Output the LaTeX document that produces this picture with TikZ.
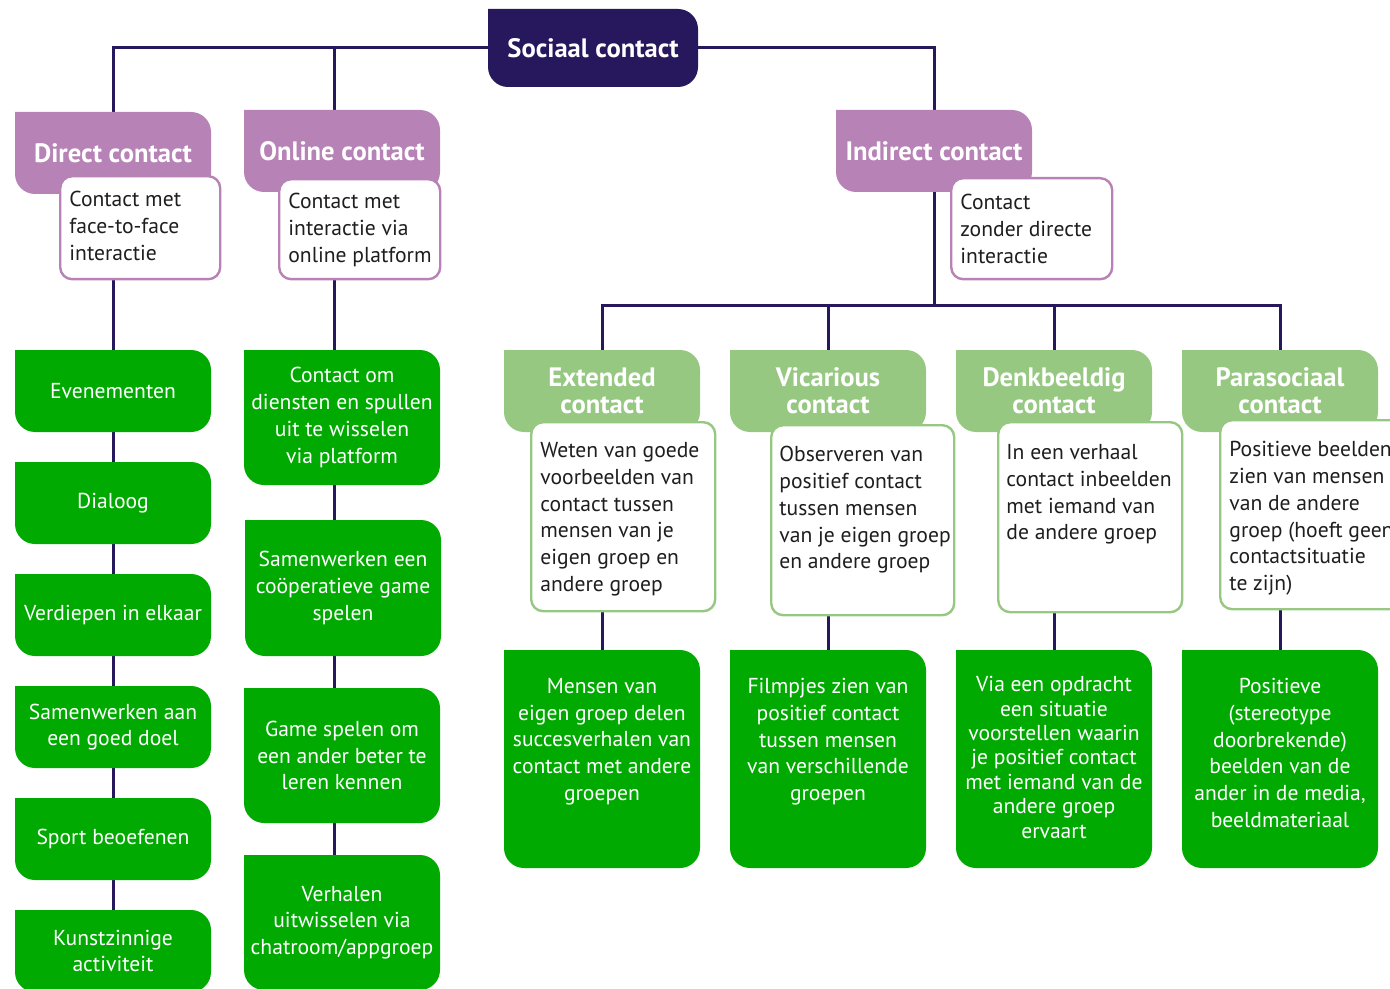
\documentclass[tikz,border=0pt]{standalone}
\usepackage{fontspec}
\setmainfont{PT Sans}
\usetikzlibrary{backgrounds}

\definecolor{donkerblauw}{RGB}{39,24,94}
\definecolor{paars}{RGB}{183,130,182}
\definecolor{lichtgroen}{RGB}{150,200,130}
\definecolor{groen}{RGB}{0,170,0}
\definecolor{tekst}{RGB}{30,30,30}

\tikzset{
  vorm/.style={path picture={
    \fill[#1] (path picture bounding box.north west)
      -- ([xshift=-10pt]path picture bounding box.north east)
      arc[start angle=90, end angle=0, radius=10pt]
      -- ([yshift=10pt]path picture bounding box.south east)
      arc[start angle=0, end angle=-90, radius=10pt]
      -- ([xshift=10pt]path picture bounding box.south west)
      arc[start angle=270, end angle=180, radius=10pt]
      -- cycle;}},
  kop/.style={vorm=#1, minimum width=98pt, minimum height=41pt, inner sep=0pt,
    text=white, align=center, font=\fontsize{13.3}{13.5}\selectfont\bfseries},
  omschr/.style={draw=#1, fill=white, line width=1.2pt, rounded corners=6pt,
    anchor=north west, inner sep=0pt},
  omtekst/.style={anchor=north west, inner sep=0pt, align=left, text=tekst,
    font=\fontsize{10.8}{13.4}\selectfont},
  vb/.style={vorm=groen, minimum width=98pt, inner sep=0pt, text=white,
    align=center, font=\fontsize{10.8}{13.35}\selectfont},
  vbtekst/.style={anchor=north, inner sep=0pt, align=center, text=white,
    font=\fontsize{10.8}{13.35}\selectfont},
  lijn/.style={draw=donkerblauw, line width=1.5pt},
}

\begin{document}
\begin{tikzpicture}[x=0.5pt, y=-0.5pt]
    \useasboundingbox (0,0) rectangle (1390,989);
    \clip (0,0) rectangle (1390,989);

    % 顶部
    \node[kop=donkerblauw, minimum width=105pt, minimum height=39pt] (sociaal) at (593,48) {Sociaal contact};

    % 三种接触
    \node[kop=paars] (direct) at (113,153) {Direct contact};
    \node[omschr=paars, minimum width=80pt, minimum height=51.5pt] (direct-om) at (59,175) {};
    \node[omtekst] (direct-tekst) at (69,191) {Contact met\\face-to-face\\interactie};

    \node[kop=paars] (online) at (342,151) {Online contact};
    \node[omschr=paars, minimum width=80.5pt, minimum height=50pt] (online-om) at (278,178) {};
    \node[omtekst] (online-tekst) at (288,193) {Contact met\\interactie via\\online platform};

    \node[kop=paars] (indirect) at (934,151) {Indirect contact};
    \node[omschr=paars, minimum width=80.5pt, minimum height=50.5pt] (indirect-om) at (950,177) {};
    \node[omtekst] (indirect-tekst) at (960,194) {Contact\\zonder directe\\interactie};

    % 直接接触的例子
    \node[vb, minimum height=41pt] (evenementen) at (113,391) {Evenementen};
    \node[vb, minimum height=41pt] (dialoog) at (113,503) {Dialoog};
    \node[vb, minimum height=41pt] (verdiepen) at (113,615) {Verdiepen in elkaar};
    \node[vb, minimum height=41pt] (goeddoel) at (113,727) {Samenwerken aan\\een goed doel};
    \node[vb, minimum height=41pt] (sport) at (113,839) {Sport beoefenen};
    \node[vb, minimum height=41pt] (kunst) at (113,951) {Kunstzinnige\\activiteit};

    % 在线接触的例子
    \node[vb, minimum height=67.5pt] (spullen) at (342,417.5) {Contact om\\diensten en spullen\\uit te wisselen\\via platform};
    \node[vb, minimum height=68pt] (coop) at (343,588) {Samenwerken een\\coöperatieve game\\spelen};
    \node[vb, minimum height=67.5pt] (game) at (342,755.5) {Game spelen om\\een ander beter te\\leren kennen};
    \node[vb, minimum height=67.5pt] (chat) at (342,922.5) {Verhalen\\uitwisselen via\\chatroom/appgroep};

    % 间接接触的四种
    \node[kop=lichtgroen] (extended) at (602,391) {Extended\\contact};
    \node[kop=lichtgroen] (vicarious) at (828,391) {Vicarious\\contact};
    \node[kop=lichtgroen] (denkbeeldig) at (1054,391) {Denkbeeldig\\contact};
    \node[kop=lichtgroen] (parasociaal) at (1280,391) {Parasociaal\\contact};

    \node[omschr=lichtgroen, minimum width=92pt, minimum height=94.5pt] (extended-om) at (530,421) {};
    \node[omtekst] (extended-tekst) at (540,442) {Weten van goede\\voorbeelden van\\contact tussen\\mensen van je\\eigen groep en\\andere groep};
    \node[omschr=lichtgroen, minimum width=91.5pt, minimum height=95pt] (vicarious-om) at (770,424) {};
    \node[omtekst] (vicarious-tekst) at (779,446) {Observeren van\\positief contact\\tussen mensen\\van je eigen groep\\en andere groep};
    \node[omschr=lichtgroen, minimum width=92pt, minimum height=95pt] (denkbeeldig-om) at (997,421) {};
    \node[omtekst] (denkbeeldig-tekst) at (1006,444) {In een verhaal\\contact inbeelden\\met iemand van\\de andere groep};
    \node[omschr=lichtgroen, minimum width=95pt, minimum height=94.5pt] (parasociaal-om) at (1219,419) {};
    \node[omtekst] (parasociaal-tekst) at (1229,441) {Positieve beelden\\zien van mensen\\van de andere\\groep (hoeft geen\\contactsituatie\\te zijn)};

    \node[vb, minimum height=109pt] (extended-vb) at (602,759) {};
    \node[vbtekst] (extended-vbtekst) at (602,678) {Mensen van\\eigen groep delen\\succesverhalen van\\contact met andere\\groepen};
    \node[vb, minimum height=109pt] (vicarious-vb) at (828,759) {};
    \node[vbtekst] (vicarious-vbtekst) at (828,678) {Filmpjes zien van\\positief contact\\tussen mensen\\van verschillende\\groepen};
    \node[vb, minimum height=109pt] (denkbeeldig-vb) at (1054,759) {};
    \node[vbtekst, font=\fontsize{10.8}{12.2}\selectfont] (denkbeeldig-vbtekst) at (1054,676) {Via een opdracht\\een situatie\\voorstellen waarin\\je positief contact\\met iemand van de\\andere groep\\ervaart};
    \node[vb, minimum height=109pt] (parasociaal-vb) at (1280,759) {};
    \node[vbtekst] (parasociaal-vbtekst) at (1280,678) {Positieve\\(stereotype\\doorbrekende)\\beelden van de\\ander in de media,\\beeldmateriaal};

    % 连线
    \begin{scope}[on background layer]
        \draw[lijn] (sociaal.west) -| (direct.north);
        \draw[lijn] (sociaal.west) -| ([xshift=-4pt]online.north);
        \draw[lijn] (sociaal.east) -| (indirect.north);
        \draw[lijn] (direct) -- (kunst);
        \draw[lijn] ([xshift=-4pt]online.south) -- ([xshift=-4pt]chat.north);
        \coordinate (splits) at (indirect.south |- 0,306);
        \draw[lijn] (indirect) -- (splits);
        \foreach \n in {extended,vicarious,denkbeeldig,parasociaal} {
            \draw[lijn] (splits) -| (\n.north);
            \draw[lijn] (\n) -- (\n-vb);
        }
    \end{scope}
\end{tikzpicture}
\end{document}
